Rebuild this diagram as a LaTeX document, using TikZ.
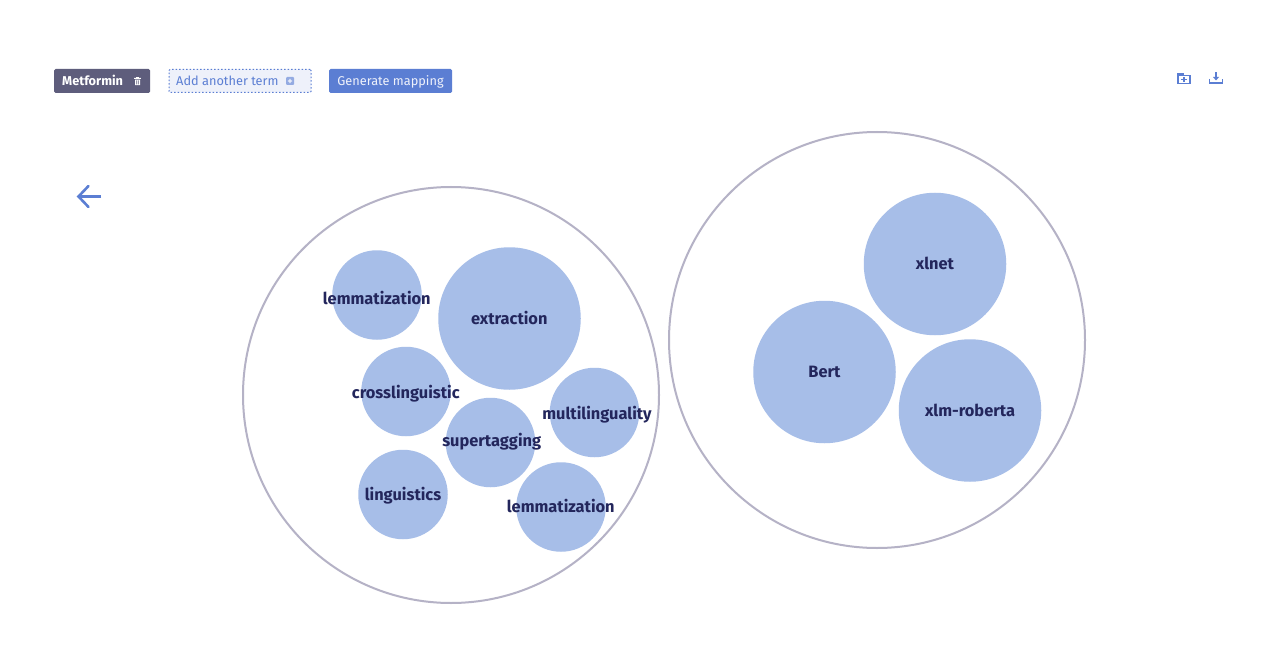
\documentclass[tikz,border=0pt]{standalone}
\usepackage{fontspec}
\setmainfont{Fira Sans}
\definecolor{bub}{HTML}{A7BEE8}
\definecolor{ink}{HTML}{23265C}
\definecolor{ring}{HTML}{B5B2C6}
\definecolor{blue}{HTML}{5B7ED3}
\definecolor{slate}{HTML}{5E5D7C}
\definecolor{pale}{HTML}{EEF1FA}
\tikzset{
  x=1pt,y=-1pt,
  group/.style={circle,draw=ring,line width=2pt,fill=white,inner sep=0pt,minimum size=416pt},
  small/.style={circle,fill=bub,inner sep=0pt,minimum size=89.5pt},
  big/.style={circle,fill=bub,inner sep=0pt,minimum size=142.5pt},
  term/.style={font=\fontsize{16.4}{18}\selectfont\bfseries,text=ink,inner sep=0pt,text height=11.5pt,text depth=.5pt},
  btn/.style={rounded corners=1.5pt,inner sep=0pt,minimum height=24pt,anchor=west},
  btntext/.style={font=\fontsize{12.75}{15}\selectfont,inner sep=0pt,text height=9.5pt,text depth=.5pt},
  icon/.style={draw=blue,line width=1.5pt}
}
\begin{document}
\begin{tikzpicture}
\useasboundingbox (0,0) rectangle (1282,663);
\fill[white] (0,0) rectangle (1282,663);
% top bar
\node[btn,fill=slate,minimum width=96pt] (chip) at (54,81) {};
\node[btntext,font=\fontsize{12.8}{15}\selectfont\bfseries,text=white,anchor=west] (chiptext) at (62,81) {Metformin};
\fill[white] (134.2,78) rectangle (140.8,79) (135,79.6) rectangle (140,85.2);
\fill[white] (136.3,77) rectangle (138.7,78);
\fill[slate] (136.4,80.3) rectangle (137,84.4) (138,80.3) rectangle (138.6,84.4);
\node[btn,fill=pale,draw=blue,dash pattern=on 1.5pt off 2pt,line width=1pt,rounded corners=1pt,minimum width=142pt,minimum height=23pt] (add) at (168.5,81) {};
\node[btntext,text=blue,anchor=west] (addtext) at (176,81) {Add another term};
\fill[blue!65,rounded corners=1pt] (286,77) rectangle (294,85);
\fill[pale] (289.3,78.8) rectangle (290.7,83.2) (287.8,80.3) rectangle (292.2,81.7);
\node[btn,fill=blue,minimum width=123pt] (gen) at (329,81) {};
\node[btntext,text=white!90!blue,anchor=center] (gentext) at (390.5,81) {Generate mapping};
% folder icon
\draw[icon] (1178,74) -- (1178,83.5) -- (1190,83.5) -- (1190,75.5) -- (1178,75.5);
\fill[blue] (1177.3,72.6) rectangle (1184,75);
\draw[icon] (1184,77) -- (1184,82) (1181,79.4) -- (1187,79.4);
% download icon
\draw[icon] (1209.7,79) -- (1209.7,83) -- (1222.3,83) -- (1222.3,79);
\draw[icon] (1216,72.5) -- (1216,79);
\fill[blue] (1213,77) -- (1219,77) -- (1216,80.5) -- cycle;
% back arrow
\coordinate (backend) at (101,196.5);
\coordinate (backtip) at (78.5,196.5);
\draw[blue,line width=2.6pt] (backend) -- (backtip);
\draw[blue,line width=2.6pt,line cap=round] (88.5,186) -- (backtip) -- (88.5,207);
% groups
\node[group] (left) at (451,395) {};
\node[group] (right) at (877,340) {};
% bubbles
\node[big] (extraction) at (509.5,318.5) {};
\node[small] (lem1) at (377,295) {};
\node[small] (cross) at (406,391.5) {};
\node[small] (multi) at (594.5,412.5) {};
\node[small] (super) at (490.5,442.5) {};
\node[small] (ling) at (403,494.5) {};
\node[small] (lem2) at (561,507) {};
\node[big] (xlnet) at (935,264) {};
\node[big] (bert) at (824.5,372) {};
\node[big] (xlm) at (970,410.5) {};
% labels
\node[term] (textextraction) at (509.3,318.5) {extraction};
\node[term] (textlemone) at (376.8,298.5) {lemmatization};
\node[term] (textcross) at (405.8,392.8) {crosslinguistic};
\node[term] (textmulti) at (597,413.8) {multilinguality};
\node[term] (textsuper) at (491.7,441.2) {supertagging};
\node[term] (textling) at (403,494.5) {linguistics};
\node[term] (textlemtwo) at (560.8,506.8) {lemmatization};
\node[term] (textxlnet) at (935,263.5) {xlnet};
\node[term] (textbert) at (824.5,371.5) {Bert};
\node[term] (textxlm) at (970,410.5) {xlm-roberta};
\end{tikzpicture}
\end{document}
